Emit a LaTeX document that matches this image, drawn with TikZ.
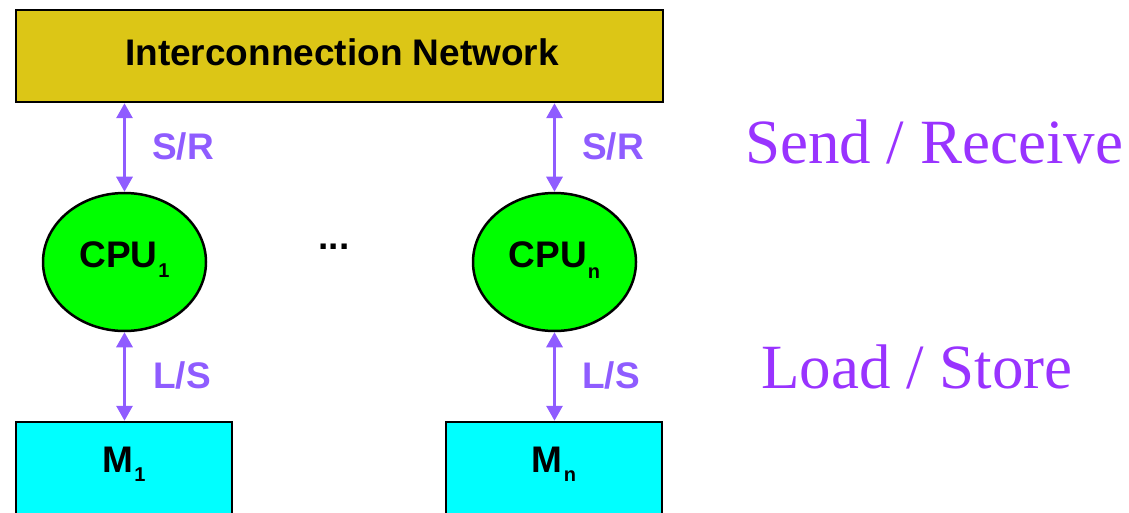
\documentclass[tikz,border=0pt]{standalone}
\usepackage{fontspec}
\setmainfont{Liberation Serif}
\setsansfont{Liberation Sans}
\usetikzlibrary{arrows.meta,shapes.geometric}
\definecolor{netgold}{RGB}{220,198,22}
\definecolor{linkviolet}{RGB}{143,92,255}
\definecolor{notepurple}{RGB}{153,51,255}
\definecolor{cpugreen}{RGB}{0,255,0}
\definecolor{memcyan}{RGB}{0,255,255}
\newcommand{\lowsub}[2]{\kern1pt\raisebox{-#1}{\fontsize{20}{20}\selectfont #2}}
\begin{document}
\begin{tikzpicture}[x=1pt,y=-1pt,
  boldlab/.style={font=\sffamily\bfseries\fontsize{37}{40}\selectfont, inner sep=0},
  linklab/.style={boldlab, text=linkviolet, anchor=base west},
  notelab/.style={font=\rmfamily\fontsize{63}{70}\selectfont, text=notepurple, inner sep=0, anchor=base west},
  netbox/.style={draw=black, line width=2.5pt, fill=netgold, inner sep=0},
  cpunode/.style={ellipse, draw=black, line width=2.5pt, fill=cpugreen, inner sep=0,
    minimum width=163pt, minimum height=138pt},
  membox/.style={draw=black, line width=2.5pt, fill=memcyan, inner sep=0,
    minimum width=216pt, minimum height=108pt},
  biarrow/.style={draw=linkviolet, line width=3pt,
    {Triangle[width=16pt,length=15pt]}-{Triangle[width=16pt,length=15pt]}}
]
\useasboundingbox (0,0) rectangle (1129,513);

% interconnection network
\node[netbox, minimum width=647pt, minimum height=92pt] (net) at (339.5,56) {};
\node[boldlab, anchor=base] (nettext) at (342,66) {Interconnection Network};

% processors
\node[cpunode] (cpu1) at (124.5,262) {};
\node[cpunode] (cpun) at (554.5,262) {};
\node[boldlab, anchor=base] (cpu1text) at (124.5,267) {CPU\lowsub{10pt}{1}};
\node[boldlab, anchor=base] (cpuntext) at (554.5,267) {CPU\lowsub{11pt}{n}};
\node[boldlab, anchor=base] (dots) at (334,249) {...};

% memories
\node[membox] (m1) at (124,476) {};
\node[membox] (mn) at (554,476) {};
\node[boldlab, anchor=base] (m1text) at (124,472) {M\lowsub{9pt}{1}};
\node[boldlab, anchor=base] (mntext) at (554,472) {M\lowsub{9pt}{n}};

% links
\draw[biarrow] (cpu1.north) -- (cpu1.north |- net.south);
\draw[biarrow] (cpun.north) -- (cpun.north |- net.south);
\draw[biarrow] (cpu1.south) -- (cpu1.south |- m1.north);
\draw[biarrow] (cpun.south) -- (cpun.south |- mn.north);

% link labels
\node[linklab] (sr1) at (152,160) {S/R};
\node[linklab] (srn) at (582,160) {S/R};
\node[linklab] (ls1) at (153,388) {L/S};
\node[linklab] (lsn) at (582,388) {L/S};

% notes
\node[notelab] (sendrecv) at (745,164) {Send / Receive};
\node[notelab] (loadstore) at (761,388) {Load / Store};
\end{tikzpicture}
\end{document}
